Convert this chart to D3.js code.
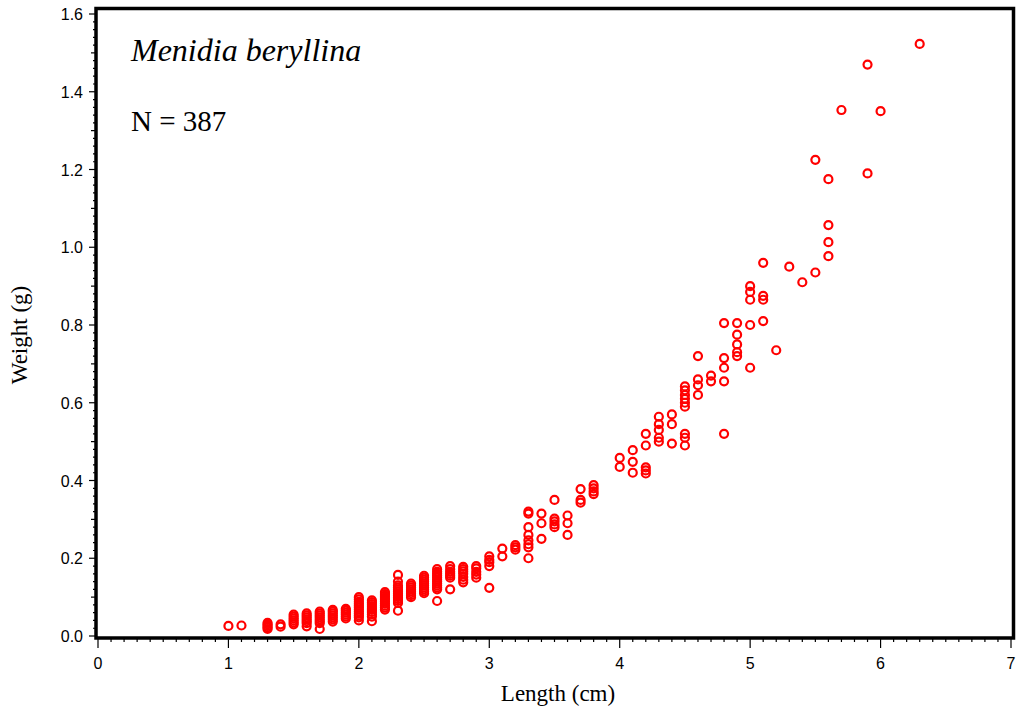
<!DOCTYPE html>
<html><head><meta charset="utf-8">
<script src="https://cdn.jsdelivr.net/npm/d3@7"></script>
<style>body{margin:0;background:#fff}svg{display:block}</style>
</head><body>
<svg id="c" width="1017" height="712"></svg>
<script>
const xTicks = [0,1,2,3,4,5,6,7];
const yTicks = [0.0,0.2,0.4,0.6,0.8,1.0,1.2,1.4,1.6];
const lengthClasses = [1.0,1.1,1.3,1.4,1.5,1.6,1.7,1.8,1.9,2.0,2.1,2.2,2.3,2.4,2.5,2.6,2.7,2.8,2.9,3.0,3.1,3.2,3.3,3.4,3.5,3.6,3.7,3.8,4.0,4.1,4.2,4.3,4.4,4.5,4.6,4.7,4.8,4.9,5.0,5.1,5.2,5.3,5.4,5.5,5.6,5.7,5.9,6.0,6.3];
const weightsByLength = [
 [0.026],
 [0.027],
 [0.018,0.022,0.026,0.03,0.034],
 [0.024,0.03],
 [0.03,0.035,0.04,0.045,0.05,0.055],
 [0.025,0.033,0.038,0.043,0.048,0.053,0.058],
 [0.018,0.033,0.038,0.043,0.048,0.053,0.058,0.063],
 [0.037,0.043,0.048,0.053,0.058,0.063,0.067],
 [0.045,0.05,0.055,0.06,0.065,0.07],
 [0.04,0.048,0.053,0.058,0.063,0.068,0.073,0.078,0.083,0.088,0.094,0.1],
 [0.038,0.05,0.056,0.062,0.067,0.072,0.077,0.082,0.087,0.092],
 [0.068,0.073,0.078,0.083,0.088,0.093,0.098,0.103,0.108,0.113],
 [0.065,0.085,0.09,0.095,0.1,0.105,0.11,0.115,0.12,0.125,0.13,0.14,0.157],
 [0.1,0.105,0.11,0.115,0.12,0.125,0.13,0.135],
 [0.11,0.115,0.12,0.125,0.13,0.135,0.14,0.145,0.15,0.155],
 [0.09,0.12,0.125,0.13,0.135,0.14,0.145,0.15,0.155,0.16,0.165,0.172],
 [0.12,0.15,0.155,0.16,0.165,0.172,0.18],
 [0.138,0.145,0.152,0.16,0.166,0.172,0.178],
 [0.15,0.158,0.165,0.174,0.18],
 [0.124,0.18,0.19,0.196,0.205],
 [0.205,0.225],
 [0.222,0.228,0.234],
 [0.2,0.228,0.236,0.246,0.26,0.28,0.315,0.32],
 [0.25,0.29,0.315],
 [0.28,0.287,0.295,0.302,0.35],
 [0.26,0.29,0.31],
 [0.343,0.35,0.378],
 [0.365,0.372,0.38,0.388],
 [0.435,0.458],
 [0.42,0.448,0.478],
 [0.418,0.426,0.434,0.49,0.52],
 [0.5,0.51,0.53,0.545,0.564],
 [0.495,0.545,0.57],
 [0.49,0.51,0.52,0.59,0.6,0.61,0.62,0.632,0.642],
 [0.62,0.645,0.66,0.72],
 [0.655,0.67],
 [0.52,0.655,0.69,0.715,0.805],
 [0.72,0.73,0.75,0.775,0.805],
 [0.69,0.8,0.865,0.885,0.9],
 [0.81,0.865,0.875,0.96],
 [0.735],
 [0.95],
 [0.91],
 [0.935,1.225],
 [0.977,1.013,1.057,1.175],
 [1.353],
 [1.19,1.47],
 [1.35],
 [1.523]
];
const titleText = "Menidia beryllina";
const nText = "N = 387";

const points = [];
lengthClasses.forEach((L,i)=>weightsByLength[i].forEach(w=>points.push({L,w})));

const svg = d3.select("#c");
const x = d3.scaleLinear().domain([0,7]).range([98,1011]);
const y = d3.scaleLinear().domain([0,1.6]).range([636,14]);
const serif = "Liberation Serif, Times New Roman, serif";
const sans = "Liberation Sans, Arial, sans-serif";

// frame
svg.append("rect").attr("x",96).attr("y",8.5).attr("width",917.5).attr("height",629.5)
  .attr("fill","none").attr("stroke","#000").attr("stroke-width",3.5);

// x axis ticks
const xg = svg.append("g").attr("stroke","#000").attr("stroke-width",1.2);
d3.range(0,70.5,1).forEach(k=>{
  const v=k/10; const major = k%10===0;
  xg.append("line").attr("x1",x(v)).attr("x2",x(v)).attr("y1",639).attr("y2",major?648:642);
});
svg.selectAll(".xl").data(xTicks).enter().append("text")
  .attr("x",d=>x(d)).attr("y",669).attr("text-anchor","middle")
  .attr("font-family",sans).attr("font-size",16).text(d=>d);

// y axis ticks
const yg = svg.append("g").attr("stroke","#000").attr("stroke-width",1.2);
d3.range(0,80.5,1).forEach(k=>{
  const v=k/50; const major=k%10===0; const mid=k%5===0;
  yg.append("line").attr("x1",major?89:(mid?91:93)).attr("x2",95).attr("y1",y(v)).attr("y2",y(v));
});
svg.selectAll(".yl").data(yTicks).enter().append("text")
  .attr("x",83).attr("y",d=>y(d)+6).attr("text-anchor","end")
  .attr("font-family",sans).attr("font-size",16).text(d=>d.toFixed(1));

// axis titles
svg.append("text").attr("x",558).attr("y",701).attr("text-anchor","middle")
  .attr("font-family",serif).attr("font-size",23).text("Length (cm)");
svg.append("text").attr("transform","translate(27,335) rotate(-90)").attr("text-anchor","middle")
  .attr("font-family",serif).attr("font-size",23).text("Weight (g)");

// annotations
svg.append("text").attr("x",131).attr("y",61).attr("font-family",serif)
  .attr("font-style","italic").attr("font-size",32).text(titleText);
svg.append("text").attr("x",131).attr("y",131).attr("font-family",serif)
  .attr("font-size",29).text(nText);

// points
svg.append("g").selectAll("circle").data(points).enter().append("circle")
  .attr("cx",d=>x(d.L)).attr("cy",d=>y(d.w)).attr("r",4)
  .attr("fill","none").attr("stroke","#ff0000").attr("stroke-width",2.2);
</script>
</body></html>
